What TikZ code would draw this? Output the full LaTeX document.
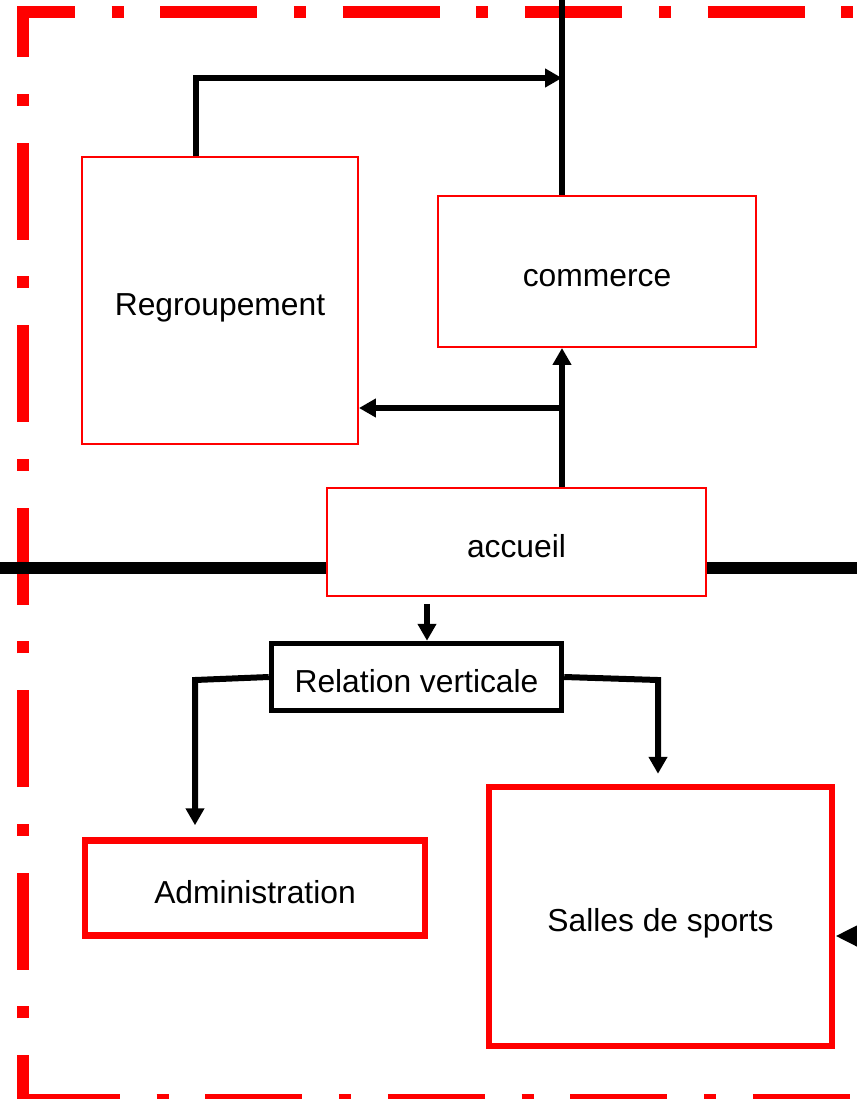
\documentclass[tikz,border=0pt]{standalone}
\usepackage{fontspec}
\setmainfont{Liberation Sans}
\usetikzlibrary{
    arrows.meta,
    positioning,
    calc
}

\tikzset{
  zone/.style={red, line width=0.24cm,
    dash pattern=on 1.94cm off 0.735cm on 0.24cm off 0.735cm},
  lieu/.style={draw=red, line width=0.04cm, fill=white, inner sep=0pt,
    font=\fontsize{18.1}{21}\selectfont, text height=21.7pt, text depth=4.3pt},
  grandlieu/.style={lieu, line width=0.13cm},
  relation/.style={draw=black, line width=0.11cm, fill=white, inner sep=0pt,
    font=\fontsize{18.1}{21}\selectfont, text height=21.7pt, text depth=4.3pt},
  trait/.style={line width=0.11cm},
  mur/.style={line width=0.24cm},
  fleche/.style={line width=0.12cm, -{Triangle[length=0.34cm,width=0.36cm]}},
  entree/.style={line width=0.24cm, -{Triangle[length=0.66cm,width=0.6cm]}}
}

\begin{document}
\begin{tikzpicture}[x=0.02cm,y=-0.02cm]
  \useasboundingbox (0,0) rectangle (857,1099);
  % zone en pointilles
  \draw[zone] (23,1100) -- (900,1100);
  \draw[zone, dash phase=1.04cm] (23,1100) -- (23,12) -- (900,12);

  % salles
  \node[lieu, minimum width=5.52cm, minimum height=5.74cm] (regroupement) at (220,300.5) {Regroupement};
  \node[lieu, minimum width=6.36cm, minimum height=3.02cm] (commerce) at (597,271.5) {commerce};
  \node[lieu, minimum width=7.58cm, minimum height=2.16cm] (accueil) at (516.5,542) {accueil};
  \node[relation, minimum width=5.8cm, minimum height=1.34cm] (relverticale) at (416.5,677) {Relation verticale};
  \node[grandlieu, minimum width=6.8cm, minimum height=1.9cm] (administration) at (255,888) {Administration};
  \node[grandlieu, minimum width=6.86cm, minimum height=5.18cm] (salles) at (660.5,916.5) {Salles de sports};

  \coordinate (sortie) at (562,-10);
  \coordinate (haut) at (562,78);
  \coordinate (branche) at (562,408);
  \coordinate (gauche) at (-10,568);
  \coordinate (droite) at (870,568);
  \coordinate (coudeG) at (195,680);
  \coordinate (coudeD) at (658,680);
  \coordinate (dehors) at (900,936);

  % liaisons
  \draw[trait] (sortie) -- (sortie |- commerce.north);
  \draw[fleche] ([xshift=-0.48cm]regroupement.north) |- (haut);
  \draw[fleche] (sortie |- accueil.north) -- (sortie |- commerce.south);
  \draw[fleche] (branche) -- (branche -| regroupement.east);
  \draw[mur] (gauche) -- (gauche -| accueil.west);
  \draw[mur] (accueil.east |- droite) -- (droite);
  \draw[fleche, shorten <=0.14cm] ([xshift=0.21cm]relverticale.north |- accueil.south) -- ([xshift=0.21cm]relverticale.north);
  \draw[fleche, shorten >=0.24cm] (relverticale.west) -- (coudeG) -- (coudeG |- administration.north);
  \draw[fleche, shorten >=0.2cm] (relverticale.east) -- (coudeD) -- (coudeD |- salles.north);
  \draw[entree] (dehors) -- (dehors -| salles.east);
\end{tikzpicture}
\end{document}
